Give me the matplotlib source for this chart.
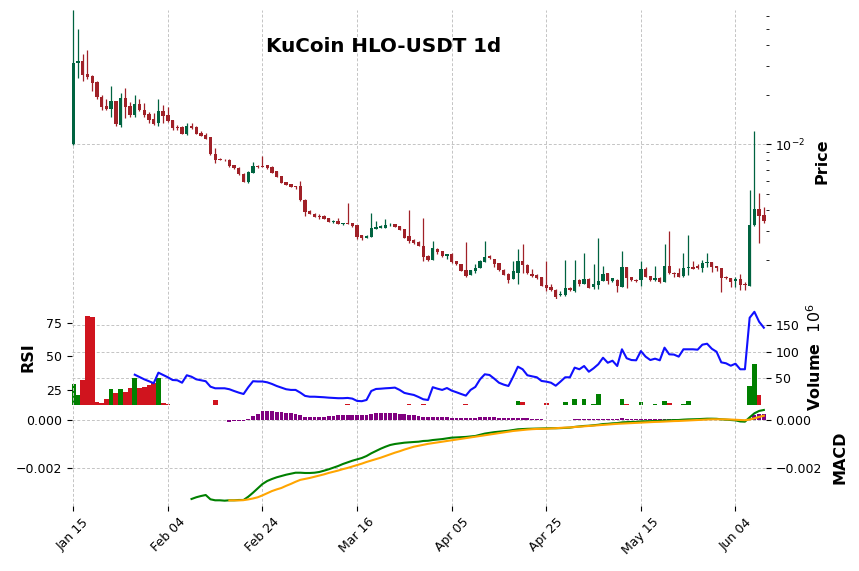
import numpy as np
import pandas as pd
import matplotlib
matplotlib.use('Agg')
import matplotlib.pyplot as plt

# ---------------- data (prices in units of 1e-3 USDT) ----------------
dates = pd.date_range('2025-01-15', periods=147, freq='D')

open_milli = [
    10.0, 31.0, 32.0, 26.7, 25.9, 23.9, 19.35, 17.1, 16.4, 18.3,
    13.1, 19.0, 17.1, 15.05, 17.5, 16.1, 15.3, 14.2, 13.5, 15.9,
    15.05, 14.0, 12.8, 12.7, 11.6, 13.0, 12.7, 11.7, 11.4, 11.1,
    8.73, 8.18, 8.07, 8.0, 7.49, 7.16, 6.61, 5.91, 6.73, 7.39,
    7.39, 7.46, 7.26, 6.89, 6.40, 5.91, 5.74, 5.59, 5.57, 4.60,
    3.94, 3.80, 3.69, 3.69, 3.58, 3.38, 3.43, 3.29, 3.33, 3.32,
    3.23, 2.82, 2.72, 2.75, 3.08, 3.12, 3.12, 3.23, 3.29, 3.20,
    3.07, 2.78, 2.63, 2.57, 2.42, 2.10, 1.99, 2.32, 2.26, 2.10,
    2.16, 1.96, 1.87, 1.73, 1.62, 1.71, 1.78, 1.94, 2.10, 2.02,
    1.91, 1.73, 1.64, 1.53, 1.67, 1.97, 1.86, 1.64, 1.61, 1.57,
    1.40, 1.37, 1.31, 1.22, 1.22, 1.35, 1.29, 1.505, 1.43, 1.53,
    1.36, 1.40, 1.49, 1.65, 1.49, 1.505, 1.37, 1.80, 1.56, 1.505,
    1.50, 1.75, 1.585, 1.50, 1.55, 1.47, 1.83, 1.67, 1.66, 1.585,
    1.78, 1.80, 1.84, 1.77, 1.90, 1.93, 1.83, 1.77, 1.57, 1.54,
    1.49, 1.53, 1.42, 1.39, 3.23, 4.05, 3.71]

high_milli = [
    65.2, 49.8, 35.3, 37.3, 26.3, 24.2, 19.8, 18.7, 22.5, 18.4,
    20.4, 21.8, 18.1, 19.8, 18.7, 17.7, 15.8, 15.4, 18.7, 17.2,
    16.8, 14.1, 13.1, 13.0, 13.4, 13.4, 12.9, 12.0, 11.66, 11.15,
    9.5, 8.3, 8.14, 8.18, 7.52, 7.31, 6.67, 6.92, 7.81, 7.49,
    8.49, 7.49, 7.36, 6.92, 6.43, 5.93, 5.77, 5.61, 5.99, 4.64,
    3.98, 3.82, 3.77, 3.73, 3.59, 3.48, 3.56, 3.35, 4.39, 3.33,
    3.24, 2.83, 2.82, 3.82, 3.44, 3.23, 3.53, 3.33, 3.30, 3.21,
    3.08, 4.0, 2.66, 2.59, 3.56, 2.13, 2.58, 2.36, 2.27, 2.17,
    2.18, 1.97, 1.88, 2.56, 1.73, 1.88, 1.99, 2.58, 2.13, 2.03,
    1.92, 1.75, 1.65, 1.97, 2.32, 2.49, 1.87, 1.75, 1.64, 1.58,
    1.97, 1.42, 1.32, 1.29, 1.99, 1.37, 1.99, 1.52, 2.18, 1.54,
    1.88, 2.69, 1.83, 1.67, 1.55, 1.53, 2.26, 1.81, 1.57, 1.53,
    1.97, 1.81, 1.59, 1.83, 1.56, 2.48, 2.98, 1.68, 1.77, 2.18,
    2.81, 1.97, 1.88, 2.00, 2.18, 1.94, 1.84, 1.79, 1.585, 1.55,
    1.58, 1.64, 1.46, 5.28, 12.0, 5.05, 4.15]

low_milli = [
    9.95, 25.1, 24.1, 25.0, 20.96, 18.7, 16.2, 16.1, 14.6, 12.97,
    12.8, 14.4, 14.6, 14.6, 15.9, 14.7, 13.5, 13.15, 12.97, 13.4,
    13.65, 12.27, 12.3, 11.5, 11.4, 12.4, 11.5, 11.2, 10.7, 8.58,
    7.67, 8.0, 7.92, 7.29, 7.06, 6.52, 5.90, 5.80, 6.67, 7.16,
    7.31, 7.12, 6.70, 6.34, 5.83, 5.64, 5.51, 5.34, 4.55, 3.69,
    3.77, 3.61, 3.51, 3.51, 3.37, 3.33, 3.29, 3.26, 3.29, 3.17,
    2.66, 2.64, 2.69, 2.74, 3.05, 3.11, 3.10, 3.20, 3.15, 3.02,
    2.71, 2.53, 2.49, 2.42, 1.95, 1.97, 1.98, 2.16, 2.08, 2.01,
    1.92, 1.86, 1.70, 1.58, 1.61, 1.67, 1.77, 1.93, 2.03, 1.80,
    1.71, 1.61, 1.45, 1.52, 1.42, 1.67, 1.64, 1.56, 1.52, 1.38,
    1.30, 1.30, 1.15, 1.21, 1.21, 1.30, 1.28, 1.38, 1.42, 1.35,
    1.33, 1.33, 1.48, 1.42, 1.46, 1.28, 1.36, 1.34, 1.48, 1.47,
    1.39, 1.56, 1.48, 1.48, 1.45, 1.46, 1.63, 1.58, 1.56, 1.57,
    1.61, 1.76, 1.76, 1.68, 1.81, 1.68, 1.71, 1.28, 1.53, 1.37,
    1.37, 1.31, 1.31, 1.38, 3.20, 2.51, 3.35]

close_milli = [
    31.0, 32.0, 26.4, 25.7, 23.4, 19.4, 16.9, 16.4, 18.3, 13.3,
    19.0, 16.9, 15.05, 17.5, 16.1, 15.05, 14.0, 13.3, 15.9, 14.8,
    13.9, 12.56, 12.56, 11.6, 13.0, 12.56, 11.6, 11.3, 10.8, 8.7,
    8.07, 8.07, 8.0, 7.36, 7.16, 6.58, 5.93, 6.79, 7.39, 7.26,
    7.31, 7.19, 6.73, 6.36, 5.85, 5.67, 5.53, 5.53, 4.60, 3.90,
    3.80, 3.64, 3.64, 3.53, 3.40, 3.43, 3.30, 3.32, 3.30, 3.20,
    2.74, 2.72, 2.78, 3.11, 3.17, 3.20, 3.24, 3.26, 3.17, 3.04,
    2.72, 2.61, 2.53, 2.43, 2.08, 2.00, 2.35, 2.23, 2.11, 2.16,
    1.94, 1.87, 1.71, 1.59, 1.72, 1.77, 1.96, 2.07, 2.05, 1.89,
    1.74, 1.62, 1.505, 1.71, 1.96, 1.85, 1.65, 1.585, 1.55, 1.39,
    1.35, 1.31, 1.18, 1.24, 1.35, 1.31, 1.505, 1.42, 1.53, 1.35,
    1.42, 1.48, 1.64, 1.49, 1.54, 1.39, 1.80, 1.55, 1.50, 1.48,
    1.75, 1.58, 1.50, 1.54, 1.46, 1.83, 1.65, 1.64, 1.58, 1.77,
    1.80, 1.76, 1.77, 1.90, 1.94, 1.81, 1.77, 1.55, 1.54, 1.46,
    1.53, 1.40, 1.40, 3.23, 4.05, 3.69, 3.44]

# volume in millions
volume_m = [
    39.4, 18.8, 46.9, 167.5, 165.0, 5.6, 3.2, 11.3, 30.0, 22.5,
    30.0, 24.4, 31.9, 50.7, 31.9, 33.8, 37.5, 41.3, 50.7, 3.8,
    1.9, 0.6, 0.5, 0.4, 0.6, 0.5, 0.4, 0.5, 0.6, 0.7,
    9.4, 0.5, 0.4, 0.5, 0.4, 0.5, 0.6, 0.5, 0.6, 0.4,
    0.5, 0.4, 0.5, 0.5, 0.4, 0.5, 0.4, 0.5, 0.7, 0.6,
    0.5, 0.4, 0.4, 0.5, 0.4, 0.4, 0.5, 0.4, 1.5, 0.5,
    0.6, 0.5, 0.4, 0.6, 0.5, 0.4, 0.5, 0.4, 0.4, 0.5,
    0.6, 1.5, 0.5, 0.5, 2.8, 0.5, 0.6, 0.4, 0.5, 0.4,
    0.5, 0.4, 0.5, 1.5, 0.5, 0.4, 0.6, 0.7, 0.4, 0.5,
    0.5, 0.4, 0.5, 0.6, 7.5, 5.6, 0.5, 0.4, 0.5, 0.6,
    3.8, 0.5, 0.6, 0.4, 5.6, 0.5, 11.3, 0.6, 11.3, 0.5,
    1.9, 20.6, 0.6, 0.5, 0.4, 0.6, 11.3, 2.5, 0.4, 0.5,
    5.6, 0.5, 0.4, 1.3, 0.5, 7.5, 3.8, 0.5, 0.4, 1.0,
    7.5, 0.6, 0.5, 0.6, 0.7, 0.5, 0.4, 0.8, 0.5, 0.6,
    0.5, 0.6, 0.5, 35.6, 76.9, 18.8, 0.8]

nan = float('nan')
rsi = [nan] * 13 + [
    36.6, 34.9, 33.2, 31.8, 30.3, 38.1, 36.4,
    34.7, 32.7, 32.5, 30.7, 36.2, 35.1, 33.2, 32.5, 31.8, 27.8,
    26.6, 26.6, 26.6, 25.9, 24.6, 23.4, 22.4, 27.4, 31.8, 31.6,
    31.6, 31.0, 29.8, 28.3, 27.1, 25.9, 25.4, 25.4, 23.4, 21.0,
    20.4, 20.4, 20.2, 20.0, 19.7, 19.5, 19.3, 19.3, 19.5, 19.0,
    17.3, 17.1, 18.0, 24.6, 26.1, 26.3, 26.6, 26.8, 27.1, 25.4,
    23.2, 22.4, 21.7, 20.2, 18.5, 18.0, 27.4, 26.3, 25.4, 26.8,
    24.9, 23.7, 22.4, 21.2, 25.4, 27.6, 33.2, 36.9, 36.4, 33.7,
    30.7, 29.3, 28.3, 35.1, 42.5, 40.6, 36.2, 35.4, 34.7, 32.0,
    31.5, 30.7, 28.5, 31.5, 34.7, 34.7, 41.8, 40.6, 43.0, 38.8,
    41.3, 44.3, 49.1, 45.4, 46.9, 43.0, 55.3, 48.7, 47.4, 47.2,
    54.0, 49.9, 47.4, 48.4, 47.2, 56.5, 51.6, 51.4, 49.9, 55.3,
    55.3, 55.3, 55.0, 58.7, 59.4, 55.7, 53.5, 45.7, 45.0, 43.2,
    44.7, 40.6, 40.6, 78.5, 82.9, 75.6, 71.2]

# MACD values in units of 1e-3
macd_milli = [nan] * 25 + [
    -3.312, -3.240, -3.187, -3.145, -3.325,
    -3.367, -3.367, -3.383, -3.367, -3.367, -3.354, -3.354, -3.216, -3.048, -2.864,
    -2.684, -2.558, -2.474, -2.403, -2.348, -2.294, -2.252, -2.210, -2.210, -2.222,
    -2.222, -2.210, -2.180, -2.126, -2.067, -2.000, -1.929, -1.845, -1.774, -1.707,
    -1.648, -1.593, -1.510, -1.396, -1.300, -1.203, -1.120, -1.048, -1.006, -0.977,
    -0.952, -0.935, -0.922, -0.910, -0.880, -0.870, -0.840, -0.820, -0.800, -0.770,
    -0.740, -0.730, -0.720, -0.710, -0.690, -0.670, -0.620, -0.570, -0.540, -0.510,
    -0.490, -0.470, -0.450, -0.420, -0.390, -0.380, -0.370, -0.365, -0.360, -0.355,
    -0.350, -0.345, -0.345, -0.340, -0.330, -0.320, -0.290, -0.270, -0.250, -0.240,
    -0.220, -0.200, -0.170, -0.160, -0.140, -0.130, -0.100, -0.090, -0.085, -0.080,
    -0.060, -0.055, -0.050, -0.045, -0.040, -0.020, -0.010, -0.005, 0.000, 0.015,
    0.025, 0.030, 0.035, 0.045, 0.055, 0.055, 0.050, 0.030, 0.015, 0.000,
    -0.015, -0.060, -0.070, 0.110, 0.280, 0.380, 0.420]

signal_milli = [nan] * 33 + [
    -3.37, -3.37, -3.37, -3.36, -3.33, -3.29, -3.24,
    -3.16, -3.07, -2.98, -2.91, -2.85, -2.76, -2.68, -2.59, -2.51, -2.47,
    -2.43, -2.38, -2.33, -2.28, -2.22, -2.17, -2.12, -2.06, -2.01, -1.95,
    -1.89, -1.83, -1.76, -1.70, -1.64, -1.58, -1.51, -1.44, -1.37, -1.31,
    -1.24, -1.18, -1.12, -1.08, -1.04, -1.00, -0.97, -0.94, -0.91, -0.88,
    -0.85, -0.82, -0.79, -0.76, -0.73, -0.70, -0.67, -0.64, -0.61, -0.58,
    -0.55, -0.52, -0.49, -0.46, -0.44, -0.42, -0.40, -0.385, -0.375, -0.37,
    -0.365, -0.355, -0.345, -0.33, -0.32, -0.31, -0.295, -0.28, -0.265, -0.25,
    -0.235, -0.22, -0.205, -0.19, -0.175, -0.16, -0.15, -0.14, -0.13, -0.12,
    -0.11, -0.10, -0.09, -0.08, -0.075, -0.065, -0.055, -0.045, -0.04, -0.03,
    -0.02, -0.01, 0.00, 0.01, 0.02, 0.03, 0.03, 0.03, 0.025, 0.02,
    0.01, 0.00, -0.01, 0.02, 0.07, 0.13, 0.18]

# MACD histogram in units of 1e-4
hist_e4 = [nan] * 33 + [
    -0.7, -0.3, -0.3, -0.3, 0.4, 1.8, 2.5,
    3.8, 3.8, 3.8, 3.4, 3.2, 2.9, 2.9, 2.7, 2.1, 1.4,
    1.3, 1.3, 1.3, 1.1, 1.5, 1.8, 2.1, 2.1, 2.1, 2.1,
    2.1, 2.1, 2.1, 2.5, 2.8, 2.8, 2.8, 2.8, 2.8, 2.7,
    2.4, 2.1, 2.0, 1.7, 1.3, 1.3, 1.3, 1.3, 1.3, 1.3,
    0.8, 0.8, 0.8, 0.8, 0.8, 0.8, 1.3, 1.3, 1.3, 1.3,
    0.8, 0.8, 0.8, 0.8, 0.8, 0.8, 0.8, 0.4, 0.4, 0.4,
    0.1, 0.1, 0.05, 0.05, 0.05, 0.1, 0.4, 0.4, 0.4, 0.4,
    0.4, 0.4, 0.4, 0.4, 0.4, 0.4, 0.8, 0.4, 0.4, 0.4,
    0.4, 0.4, 0.4, 0.4, 0.4, 0.5, 0.5, 0.5, 0.4, 0.4,
    0.4, 0.4, 0.4, 0.4, 0.1, 0.1, 0.1, 0.1, 0.1, 0.1,
    0.1, 0.1, 0.1, 0.9, 2.1, 2.5, 2.4]

tick_step = 20

# ---------------- figure ----------------
UP, DOWN = '#006340', '#A02128'
VOL_UP, VOL_DOWN = '#008000', '#d0141e'
GRID = dict(linestyle=(0, (3, 2)), color='#c4c4c4', linewidth=0.7)

o = np.array(open_milli) * 1e-3
h = np.array(high_milli) * 1e-3
l = np.array(low_milli) * 1e-3
c = np.array(close_milli) * 1e-3
x = np.arange(len(o))
up = c >= o
cols = np.where(up, UP, DOWN)

fig = plt.figure(figsize=(8.59, 5.71), dpi=100)
L, W = 72 / 859, (765.5 - 72) / 859


def fy(px):
    return 1 - px / 571


ax_p = fig.add_axes([L, fy(299.3), W, (299.3 - 10) / 571])
ax_r = fig.add_axes([L, fy(405), W, (405 - 299.3) / 571], sharex=ax_p)
ax_v = ax_r.twinx()
ax_m = fig.add_axes([L, fy(506), W, (506 - 405) / 571], sharex=ax_p)

for a in (ax_p, ax_r, ax_v, ax_m):
    for s in a.spines.values():
        s.set_visible(False)
    a.tick_params(labelsize=9)

# price candles
ax_p.set_yscale('log')
ax_p.vlines(x, l, h, colors=cols, linewidth=0.9, zorder=2)
ax_p.bar(x, np.maximum(np.abs(c - o), c * 0.004), bottom=np.minimum(o, c),
         width=0.7, color=cols, linewidth=0, zorder=3)
ax_p.set_ylim(l.min(), h.max())
ax_p.yaxis.tick_right()
ax_p.tick_params(axis='x', length=0, labelbottom=False)
ax_p.grid(True, which='major', **GRID)
ax_p.set_axisbelow(True)

# RSI + volume
vcols = np.where(up, VOL_UP, VOL_DOWN)
ax_v.bar(x, volume_m, width=1.0, color=vcols, linewidth=0, zorder=2)
ax_v.set_ylim(0, 198)
ax_v.set_yticks([50, 100, 150])
ax_v.grid(True, axis='y', **GRID)
ax_v.set_axisbelow(True)
ax_r.plot(x, rsi, color='#1010ff', linewidth=1.5, zorder=3)
ax_r.set_ylim(14.3, 92.1)
ax_r.set_yticks([25, 50, 75])
ax_r.tick_params(axis='x', length=0, labelbottom=False)
ax_r.grid(True, axis='x', **GRID)
ax_r.set_axisbelow(True)
ax_r.set_zorder(ax_v.get_zorder() + 1)
ax_r.patch.set_visible(False)

# MACD
ax_m.bar(x, np.array(hist_e4) * 1e-4, width=0.8, color='purple', linewidth=0, zorder=2)
ax_m.plot(x, np.array(macd_milli) * 1e-3, color='green', linewidth=1.5, zorder=3)
ax_m.plot(x, np.array(signal_milli) * 1e-3, color='orange', linewidth=1.5, zorder=3)
ax_m.set_ylim(-0.003606, 0.000629)
ax_m.set_yticks([-0.002, 0.0])
ax_m.set_yticklabels(['\u22120.002', '0.000'])
ax_m.tick_params(axis='y', left=True, right=True, labelleft=True, labelright=True)
ax_m.grid(True, **GRID)
ax_m.set_axisbelow(True)

ticks = x[::tick_step]
ax_m.set_xticks(ticks)
ax_m.set_xticklabels(dates[::tick_step].strftime('%b %d'), rotation=45, ha='center')
ax_m.set_xlim(-0.27, 146.35)

fig.text(384 / 859, fy(47), 'KuCoin HLO-USDT 1d', ha='center', va='center',
         fontsize=14.3, fontweight='bold')
fig.text(822 / 859, fy(160.8), 'Price', rotation=90, ha='center', va='center',
         fontsize=11.5, fontweight='bold')
fig.text(815 / 859, fy(357.5), 'Volume  $10^{6}$', rotation=90, ha='center', va='center',
         fontsize=11.5, fontweight='bold')
fig.text(28.5 / 859, fy(357), 'RSI', rotation=90, ha='center', va='center',
         fontsize=11.5, fontweight='bold')
fig.text(840.5 / 859, fy(457), 'MACD', rotation=90, ha='center', va='center',
         fontsize=11.5, fontweight='bold')

fig.savefig('out.png', dpi=100)
